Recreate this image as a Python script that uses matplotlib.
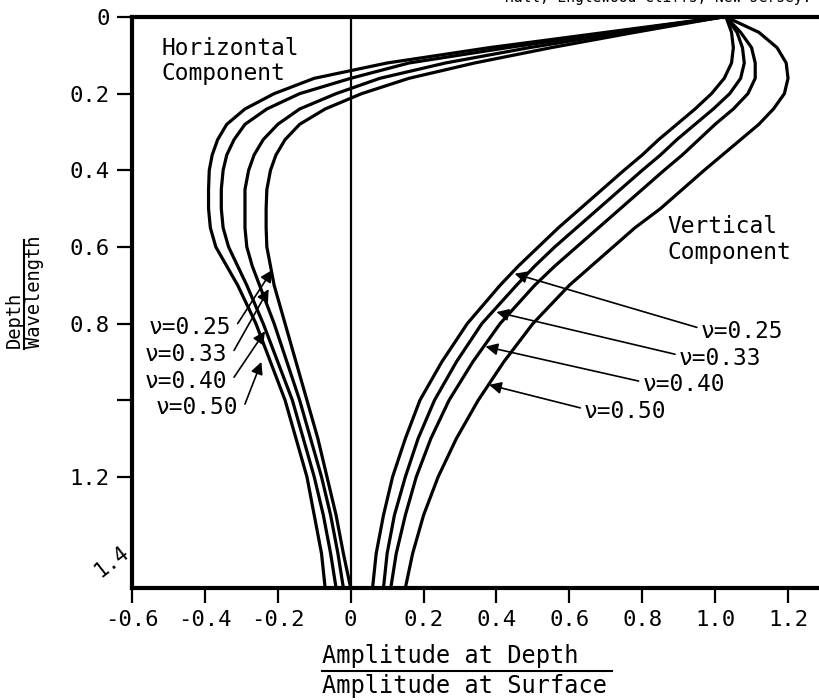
import matplotlib.pyplot as plt
import numpy as np

# depth / wavelength grid shared by all curves
depth = [0, 0.04, 0.08, 0.12, 0.16, 0.2, 0.24, 0.28, 0.32, 0.36, 0.4, 0.45, 0.5,
         0.55, 0.6, 0.65, 0.7, 0.8, 0.9, 1.0, 1.1, 1.2, 1.3, 1.4, 1.49]

# horizontal component, outermost to innermost
horiz_1 = [1.02, 0.70, 0.38, 0.10, -0.10, -0.21, -0.29, -0.34, -0.365, -0.38, -0.388, -0.39, -0.39,
           -0.385, -0.37, -0.34, -0.31, -0.26, -0.22, -0.18, -0.15, -0.12, -0.10, -0.08, -0.07]
horiz_2 = [1.02, 0.72, 0.43, 0.16, 0.0, -0.14, -0.23, -0.29, -0.32, -0.34, -0.35, -0.355, -0.355,
           -0.35, -0.335, -0.31, -0.285, -0.24, -0.20, -0.16, -0.13, -0.10, -0.075, -0.055, -0.04]
horiz_3 = [1.02, 0.75, 0.49, 0.26, 0.08, -0.04, -0.14, -0.20, -0.24, -0.265, -0.28, -0.29, -0.29,
           -0.29, -0.285, -0.27, -0.25, -0.21, -0.175, -0.14, -0.11, -0.08, -0.055, -0.035, -0.02]
horiz_4 = [1.02, 0.78, 0.55, 0.34, 0.16, 0.03, -0.07, -0.14, -0.18, -0.205, -0.22, -0.23, -0.232,
           -0.232, -0.23, -0.22, -0.21, -0.18, -0.15, -0.12, -0.09, -0.065, -0.04, -0.02, 0.0]

# vertical component, nu = 0.25, 0.33, 0.40, 0.50
vert_1 = [1.03, 1.045, 1.05, 1.045, 1.025, 0.99, 0.945, 0.895, 0.845, 0.80, 0.75, 0.69, 0.63,
          0.57, 0.515, 0.46, 0.41, 0.32, 0.25, 0.19, 0.15, 0.115, 0.09, 0.07, 0.06]
vert_2 = [1.03, 1.06, 1.075, 1.08, 1.07, 1.04, 0.995, 0.945, 0.895, 0.85, 0.80, 0.74, 0.68,
          0.62, 0.56, 0.505, 0.455, 0.36, 0.29, 0.23, 0.185, 0.15, 0.12, 0.10, 0.09]
vert_3 = [1.03, 1.07, 1.10, 1.11, 1.11, 1.09, 1.05, 1.00, 0.955, 0.91, 0.86, 0.80, 0.74,
          0.68, 0.62, 0.56, 0.505, 0.41, 0.335, 0.27, 0.22, 0.18, 0.15, 0.125, 0.11]
vert_4 = [1.03, 1.12, 1.17, 1.195, 1.20, 1.19, 1.16, 1.12, 1.07, 1.02, 0.97, 0.91, 0.85,
          0.78, 0.72, 0.66, 0.60, 0.50, 0.42, 0.35, 0.29, 0.24, 0.20, 0.17, 0.15]

nu_labels = ["ν=0.25", "ν=0.33", "ν=0.40", "ν=0.50"]
# left labels: text position, arrow tip on horizontal curves
left_text = [(-0.555, 0.81), (-0.565, 0.88), (-0.565, 0.95), (-0.535, 1.02)]
left_tip = [(-0.215, 0.66), (-0.225, 0.71), (-0.235, 0.82), (-0.245, 0.90)]
# right labels: text position, arrow tip on vertical curves
right_text = [(0.96, 0.82), (0.90, 0.89), (0.80, 0.96), (0.64, 1.03)]
right_tip = [(0.45, 0.67), (0.40, 0.77), (0.37, 0.86), (0.38, 0.96)]

xticks = [-0.6, -0.4, -0.2, 0, 0.2, 0.4, 0.6, 0.8, 1.0, 1.2]
xtick_labels = ["-0.6", "-0.4", "-0.2", "0", "0.2", "0.4", "0.6", "0.8", "1.0", "1.2"]
yticks = [0, 0.2, 0.4, 0.6, 0.8, 1.0, 1.2]
ytick_labels = ["0", "0.2", "0.4", "0.6", "0.8", "", "1.2"]

plt.rcParams["font.family"] = ["DejaVu Sans Mono", "DejaVu Sans"]
plt.rcParams["font.size"] = 16.5

fig = plt.figure(figsize=(8.19, 7.0), dpi=100)
ax = fig.add_axes([132 / 819, 112 / 700, 687 / 819, 571 / 700])

for xs in [horiz_1, horiz_2, horiz_3, horiz_4, vert_1, vert_2, vert_3, vert_4]:
    ax.plot(xs, depth, color="k", lw=2.3, solid_capstyle="round")

ax.axvline(0, color="k", lw=1.6)

ax.set_xlim(-0.6, 1.285)
ax.set_ylim(1.49, 0)
ax.set_xticks(xticks, xtick_labels)
ax.set_yticks(yticks, ytick_labels)
ax.tick_params(direction="out", length=11, width=1.6, pad=5, labelsize=16)
for side in ["left", "bottom", "top"]:
    ax.spines[side].set_linewidth(3)
ax.spines["right"].set_visible(False)

# rotated 1.4 label sitting in the corner
ax.text(-0.598, 1.42, "1.4", rotation=38, ha="right", va="center", fontsize=15)

ax.text(-0.52, 0.165, "Horizontal\nComponent", ha="left", va="baseline",
        linespacing=1.15, fontsize=16.5)
ax.text(0.87, 0.58, "Vertical\nComponent", ha="left", va="center",
        linespacing=1.15, fontsize=16.5)

arrow = dict(arrowstyle="-|>", color="k", lw=1.2, mutation_scale=18,
             shrinkA=0, shrinkB=0)
for label, (tx, ty), tip in zip(nu_labels, left_text, left_tip):
    ax.text(tx, ty, label, ha="left", va="center", fontsize=16.5)
    ax.annotate("", xy=tip, xytext=(tx + 0.245, ty - 0.01), arrowprops=arrow)
for label, (tx, ty), tip in zip(nu_labels, right_text, right_tip):
    ax.text(tx, ty, label, ha="left", va="center", fontsize=16.5)
    ax.annotate("", xy=tip, xytext=(tx - 0.01, ty - 0.01), arrowprops=arrow)

# axis labels drawn as fractions, numerator and denominator left aligned
fig.text(322 / 819, 1 - 656 / 700, "Amplitude at Depth", ha="left", va="center", fontsize=17)
fig.text(322 / 819, 1 - 686 / 700, "Amplitude at Surface", ha="left", va="center", fontsize=17)
fig.add_artist(plt.Line2D([322 / 819, 612 / 819], [1 - 671 / 700] * 2, color="k", lw=1.5))

fig.text(14 / 819, 1 - 348 / 700, "Depth", rotation=90, rotation_mode="anchor",
         ha="left", va="center", fontsize=13.5)
fig.text(35 / 819, 1 - 348 / 700, "Wavelength", rotation=90, rotation_mode="anchor",
         ha="left", va="center", fontsize=13.5)
fig.add_artist(plt.Line2D([24 / 819] * 2, [1 - 240 / 700, 1 - 349 / 700], color="k", lw=1.5))

# clipped source line at the very top
fig.text(505 / 819, 1.004, "Hall, Englewood Cliffs, New Jersey.", ha="left", va="center",
         fontsize=10.5)

fig.savefig("out.png", dpi=100)
